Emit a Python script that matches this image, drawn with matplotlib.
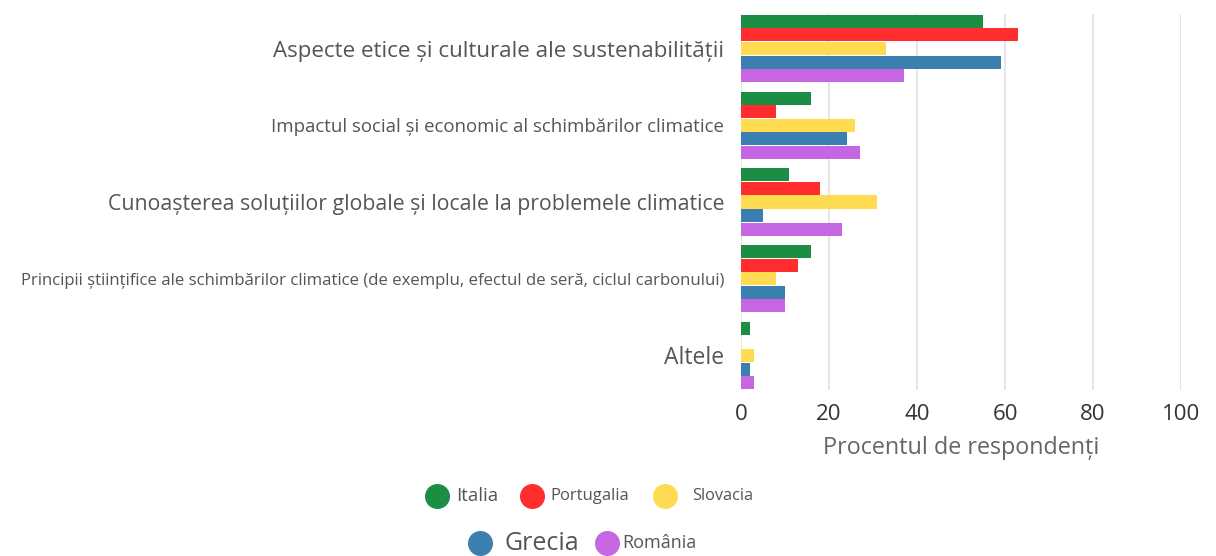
import matplotlib.pyplot as plt
from matplotlib.lines import Line2D

categories = [
    "Aspecte etice și culturale ale sustenabilității",
    "Impactul social și economic al schimbărilor climatice",
    "Cunoașterea soluțiilor globale și locale la problemele climatice",
    "Principii științifice ale schimbărilor climatice (de exemplu, efectul de seră, ciclul carbonului)",
    "Altele",
]
label_sizes = [16.1, 13.4, 15.35, 12.05, 16.5]

countries = ["Italia", "Portugalia", "Slovacia", "Grecia", "România"]
colors = ["#1c8e43", "#ff2d2d", "#ffdb52", "#3b7fb1", "#c666e2"]

italia = [55, 16, 11, 16, 2]
portugalia = [63, 8, 18, 13, 0]
slovacia = [33, 26, 31, 8, 3]
grecia = [59, 24, 5, 10, 2]
romania = [37, 27, 23, 10, 3]
series = [italia, portugalia, slovacia, grecia, romania]

plt.rcParams['font.family'] = ['Open Sans', 'DejaVu Sans']

W, H = 1216, 556
fig = plt.figure(figsize=(W / 100, H / 100), dpi=100)
ax = fig.add_axes([741 / W, 1 - 390 / H, 440 / W, 376 / H])

bh = 0.177
for i, (name, vals, c) in enumerate(zip(countries, series, colors)):
    ys = [g - 2 * bh + i * bh for g in range(len(categories))]
    ax.barh(ys, vals, height=bh * 0.96, color=c, label=name)

ax.set_xlim(0, 100)
ax.set_ylim(4.45, -0.45)
ax.set_xticks([0, 20, 40, 60, 80, 100])
ax.set_yticks(range(len(categories)))
ax.set_yticklabels(categories)
for t, s in zip(ax.get_yticklabels(), label_sizes):
    t.set_fontsize(s)
    t.set_color("#555555")
ax.tick_params(axis='y', length=0, pad=12)
ax.tick_params(axis='x', length=0, labelsize=16, labelcolor="#333333", pad=10)
for sp in ax.spines.values():
    sp.set_visible(False)
ax.grid(axis='x', color="#e6e6e6", linewidth=1.5)
ax.set_axisbelow(True)
ax.set_xlabel("Procentul de respondenți", fontsize=16.8, color="#666666", labelpad=8)

# legend drawn by hand: two centred rows of round markers
legend_items = [
    # (marker x, text x, y, fontsize)
    (437, 456, 496, 13.5),
    (532, 550, 496, 12.0),
    (665, 692, 496, 11.8),
    (480, 505, 543, 18.0),
    (607, 622, 543, 13.0),
]
for (mx, tx, y, fs), name, c in zip(legend_items, countries, colors):
    fig.add_artist(Line2D([mx / W], [1 - y / H], marker='o', linestyle='',
                          markersize=17, markerfacecolor=c, markeredgecolor=c,
                          transform=fig.transFigure))
    fig.text(tx / W, 1 - y / H, name, fontsize=fs, color="#555555",
             ha='left', va='center')

fig.savefig("out.png", dpi=100)
